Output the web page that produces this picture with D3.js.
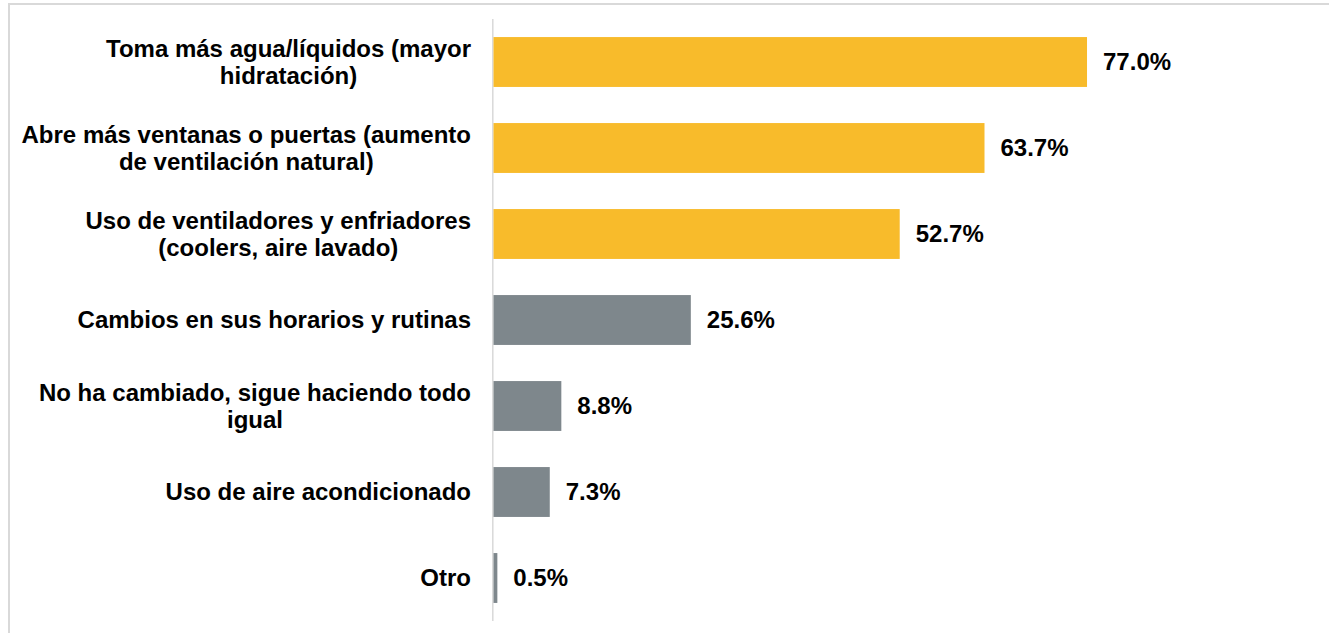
<!DOCTYPE html>
<html>
<head>
<meta charset="utf-8">
<script src="https://cdn.jsdelivr.net/npm/d3@7"></script>
<style>
  html, body { margin: 0; padding: 0; background: #fff; }
  svg { display: block; }
  text { font-family: "Liberation Sans", Arial, sans-serif; font-weight: bold; fill: #000; }
</style>
</head>
<body>
<div id="chart"></div>
<script>
// Data
const categories = [
  "Toma más agua/líquidos (mayor\nhidratación)",
  "Abre más ventanas o puertas (aumento\nde ventilación natural)",
  "Uso de ventiladores y enfriadores\n(coolers, aire lavado)",
  "Cambios en sus horarios y rutinas",
  "No ha cambiado, sigue haciendo todo\nigual",
  "Uso de aire acondicionado",
  "Otro"
];
const values = [77.0, 63.7, 52.7, 25.6, 8.8, 7.3, 0.5];
const highlighted = [true, true, true, false, false, false, false];

const W = 1329, H = 633;
const colors = { hi: "#F8BB2B", lo: "#7E878C", rule: "#D9D9D9" };

const svg = d3.select("#chart").append("svg")
  .attr("width", W).attr("height", H);

// frame (only top and left edges are visible)
svg.append("line").attr("x1", 8).attr("x2", W).attr("y1", 4).attr("y2", 4)
  .attr("stroke", colors.rule).attr("stroke-width", 2);
svg.append("line").attr("x1", 9).attr("x2", 9).attr("y1", 3).attr("y2", H)
  .attr("stroke", colors.rule).attr("stroke-width", 2);

// Scales
const x = d3.scaleLinear().domain([0, 100]).range([493.5, 493.5 + 770.8]);
const y = d3.scaleBand().domain(d3.range(categories.length))
  .range([19, 621]).paddingInner(0.42).paddingOuter(0.21);

// axis line
svg.append("line")
  .attr("x1", 492.8).attr("x2", 492.8)
  .attr("y1", y.range()[0]).attr("y2", y.range()[1])
  .attr("stroke", colors.rule).attr("stroke-width", 1.5);

// Bars
svg.selectAll("rect.bar")
  .data(values).enter()
  .append("rect")
  .attr("class", "bar")
  .attr("x", x(0))
  .attr("y", (d, i) => y(i))
  .attr("width", d => x(d) - x(0))
  .attr("height", y.bandwidth())
  .attr("fill", (d, i) => highlighted[i] ? colors.hi : colors.lo);

// Value labels
svg.selectAll("text.value")
  .data(values).enter()
  .append("text")
  .attr("class", "value")
  .attr("x", d => x(d) + 16)
  .attr("y", (d, i) => y(i) + y.bandwidth() / 2)
  .attr("dy", "0.35em")
  .style("font-size", "24px")
  .text(d => d.toFixed(1) + "%");

// Category labels: block right-aligned, lines centred within it
const fs = 24, lh = 27, rightEdge = 471;
const measure = svg.append("text").style("font-size", fs + "px").attr("opacity", 0);

categories.forEach(function(cat, i) {
  let lines = cat.split("\n");
  let widths = lines.map(function(l) {
    measure.text(l);
    return measure.node().getComputedTextLength();
  });
  let blockW = d3.max(widths);
  let cx = rightEdge - blockW / 2;
  let cy = y(i) + y.bandwidth() / 2;

  let t = svg.append("text")
    .attr("class", "cat")
    .attr("text-anchor", "middle")
    .style("font-size", fs + "px");

  lines.forEach(function(l, k) {
    t.append("tspan")
      .attr("x", cx)
      .attr("y", cy + (k - (lines.length - 1) / 2) * lh + 0.35 * fs)
      .text(l);
  });
});
measure.remove();
</script>
</body>
</html>
